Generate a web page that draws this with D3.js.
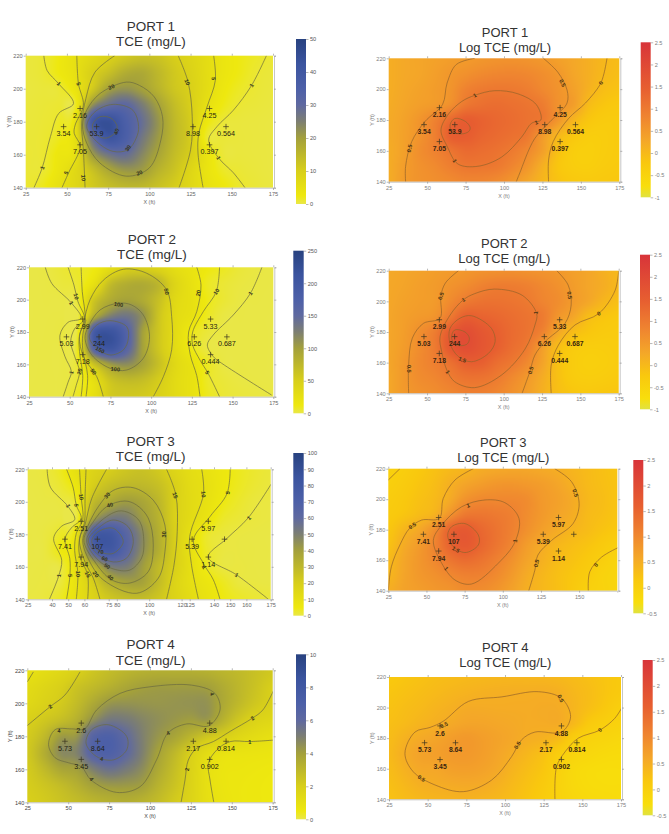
<!DOCTYPE html>
<html>
<head>
<meta charset="utf-8">
<title>TCE concentration by port</title>
<script src="https://cdn.jsdelivr.net/npm/d3@7"></script>
<style>
  html, body { margin: 0; padding: 0; background: #fff; }
  text { font-family: "Liberation Sans", Arial, sans-serif; }
</style>
</head>
<body>
<svg id="chart" width="669" height="834"></svg>
<script>
// Sampling nodes of the concentration fields (ft)
const xNodes = [25, 35, 45, 55, 65, 75, 85, 95, 105, 115, 125, 135, 145, 155, 165, 175];
const yNodes = [220, 210, 200, 190, 180, 170, 160, 150, 140];

// Monitoring wells
const wellX = [48, 58, 58, 68, 126.5, 136.5, 136.5, 146.5];
const wellY = [177, 188, 166, 177, 177, 188, 166, 177];
const port1Values = ["3.54", "2.16", "7.05", "53.9", "8.98", "4.25", "0.397", "0.564"];
const port2Values = ["5.03", "2.99", "7.18", "244", "6.26", "5.33", "0.444", "0.687"];
const port3Values = ["7.41", "2.51", "7.94", "107", "5.39", "5.97", "1.14", ""];
const port4Values = ["5.73", "2.6", "3.45", "8.64", "2.17", "4.88", "0.902", "0.814"];

const xTicksStandard = [25, 50, 75, 100, 125, 150, 175];
const xTicksPort3Tce = [25, 40, 50, 60, 75, 80, 100, 120, 125, 140, 150, 160, 175];
const xTicksPort3Log = [25, 50, 75, 100, 125, 150];
const yTicks = [140, 160, 180, 200, 220];

const port1TceBar = [0, 10, 20, 30, 40, 50];
const port2TceBar = [0, 50, 100, 150, 200, 250];
const port3TceBar = [0, 10, 20, 30, 40, 50, 60, 70, 80, 90, 100];
const port4TceBar = [0, 2, 4, 6, 8, 10];
const logBarWide = [-1, -0.5, 0, 0.5, 1, 1.5, 2, 2.5];
const logBarNarrow = [-0.5, 0, 0.5, 1, 1.5, 2, 2.5];

// Concentration fields, one row per yNodes entry
const port1TceField = [
  [0.5, 0.9, 2.5, 4.8, 7, 9.3, 11.5, 13, 12.5, 10.3, 8.2, 6, 3.5, 2.3, 1.4, 0.8],
  [0.5, 0.9, 2.5, 4.8, 9.5, 13, 17, 18, 15, 11.5, 9, 6, 3.5, 2.2, 1, 0.6],
  [0.4, 0.6, 0.9, 3.8, 11, 19.5, 22, 20, 16, 12, 9.6, 6, 3, 1.5, 0.8, 0.5],
  [0.5, 0.7, 0.95, 1.5, 22, 29, 31, 26, 20, 14, 10, 5, 2.2, 0.9, 0.6, 0.4],
  [0.6, 0.8, 1.5, 5, 38, 44, 36, 29, 22, 15, 10.5, 3, 0.8, 0.5, 0.4, 0.3],
  [0.7, 0.9, 2, 5.5, 28, 41, 36, 27, 21, 15, 10.5, 1.2, 0.7, 0.5, 0.4, 0.3],
  [0.8, 0.95, 3, 5, 20, 27, 29, 24, 19, 14, 10, 4, 0.7, 0.5, 0.4, 0.3],
  [0.8, 1, 3.5, 7, 12.5, 18, 21, 20.5, 16, 12.5, 8, 4, 1.5, 0.8, 0.5, 0.3],
  [0.9, 2, 4.7, 7.5, 11, 13.5, 15, 15, 13, 10.5, 7.5, 4.5, 2.8, 1.2, 0.7, 0.4]
];
const port1LogField = [
  [0.18, 0.25, 0.3, 0.36, 0.42, 0.47, 0.53, 0.58, 0.6, 0.57, 0.5, 0.38, 0.27, 0.15, 0.03, -0.05],
  [0.18, 0.25, 0.3, 0.4, 0.52, 0.62, 0.72, 0.78, 0.8, 0.76, 0.66, 0.52, 0.3, 0.15, 0, -0.08],
  [0.18, 0.27, 0.35, 0.44, 0.56, 0.85, 0.98, 1.02, 1, 0.92, 0.75, 0.58, 0.38, 0.12, -0.08, -0.15],
  [0.2, 0.3, 0.4, 0.48, 0.65, 1.02, 1.15, 1.2, 1.15, 1.08, 0.95, 0.6, 0.42, -0.03, -0.2, -0.25],
  [0.23, 0.35, 0.55, 0.85, 1.25, 1.5, 1.4, 1.3, 1.22, 1.12, 1, 0.55, 0.08, -0.2, -0.3, -0.3],
  [0.23, 0.37, 0.58, 0.9, 1.45, 1.5, 1.35, 1.25, 1.15, 1.02, 0.5, 0.05, -0.2, -0.35, -0.35, -0.3],
  [0.2, 0.38, 0.65, 0.85, 1.08, 1.25, 1.2, 1.12, 0.98, 0.75, 0.4, -0.1, -0.35, -0.4, -0.35, -0.3],
  [0.2, 0.42, 0.6, 0.72, 0.9, 1.05, 1.05, 1, 0.8, 0.55, 0.15, -0.2, -0.35, -0.38, -0.32, -0.28],
  [0.2, 0.45, 0.58, 0.65, 0.72, 0.8, 0.8, 0.72, 0.55, 0.3, 0.05, -0.15, -0.25, -0.28, -0.25, -0.22]
];
const port2TceField = [
  [0.5, 1, 4, 7, 12, 30, 48, 50, 42, 28, 20, 12.5, 8, 3, 1.2, 0.6],
  [0.4, 0.8, 2.5, 5.5, 25, 70, 85, 88, 75, 40, 22, 8, 4, 1.6, 0.8, 0.5],
  [0.3, 0.6, 0.8, 5, 60, 88, 97, 88, 65, 35, 24, 10.5, 4, 0.9, 0.6, 0.4],
  [0.3, 0.5, 0.7, 0.9, 85, 125, 135, 110, 60, 32, 22, 8, 1, 0.6, 0.4, 0.3],
  [0.4, 0.6, 1.8, 9, 190, 210, 165, 98, 58, 30, 11, 3, 0.8, 0.5, 0.4, 0.3],
  [0.4, 0.7, 1.5, 13, 170, 205, 160, 97, 58, 30, 11, 1.2, 0.6, 0.4, 0.4, 0.3],
  [0.4, 0.7, 0.9, 7, 65, 105, 115, 95, 65, 35, 21, 8, 1, 0.6, 0.4, 0.3],
  [0.5, 0.7, 0.9, 5, 28, 62, 72, 68, 52, 32, 22, 7, 3, 1.1, 0.6, 0.3],
  [0.6, 0.8, 1.1, 8, 25, 55, 58, 55, 46, 32, 22, 9, 4, 2.5, 1.6, 1]
];
const port2LogField = [
  [0.25, 0.3, 0.35, 0.42, 0.47, 0.53, 0.6, 0.63, 0.65, 0.62, 0.58, 0.52, 0.4, 0.3, 0.15, 0.02],
  [0.27, 0.32, 0.4, 0.46, 0.58, 0.7, 0.85, 0.95, 0.95, 0.88, 0.75, 0.62, 0.45, 0.3, 0.18, 0.02],
  [0.28, 0.36, 0.42, 0.47, 0.72, 0.98, 1.1, 1.12, 1.08, 1, 0.82, 0.68, 0.47, 0.28, 0.05, -0.1],
  [0.3, 0.4, 0.48, 0.58, 1, 1.45, 1.38, 1.3, 1.2, 1.1, 0.98, 0.55, 0.3, -0.05, -0.18, -0.25],
  [0.3, 0.42, 0.65, 0.95, 1.55, 1.85, 1.65, 1.45, 1.25, 1.1, 0.85, 0.3, -0.05, -0.2, -0.28, -0.3],
  [0.3, 0.45, 0.68, 0.98, 1.6, 1.85, 1.68, 1.45, 1.2, 0.98, 0.45, -0.05, -0.28, -0.35, -0.35, -0.32],
  [0.3, 0.5, 0.72, 0.9, 1.15, 1.45, 1.45, 1.2, 1.02, 0.75, 0.35, -0.1, -0.32, -0.4, -0.38, -0.33],
  [0.28, 0.5, 0.68, 0.78, 0.95, 1.1, 1.1, 0.98, 0.75, 0.5, 0.2, -0.1, -0.3, -0.35, -0.33, -0.28],
  [0.28, 0.48, 0.6, 0.68, 0.78, 0.88, 0.9, 0.8, 0.62, 0.42, 0.15, -0.08, -0.2, -0.25, -0.22, -0.2]
];
const port3TceField = [
  [0.4, 0.9, 3.5, 10, 17, 20.5, 24, 26, 23, 17, 12, 9, 6, 3.8, 2.2, 1.3],
  [0.3, 0.6, 2, 7, 20, 27, 30, 30, 27, 20, 13, 10, 6, 3.5, 1.8, 1],
  [0.2, 0.4, 0.7, 3.5, 28, 36, 41, 38, 31, 20, 13.5, 9.5, 5, 2.5, 0.95, 0.6],
  [0.2, 0.3, 0.6, 0.9, 38, 52, 52, 42, 33, 20, 13, 8, 3, 1.5, 0.8, 0.5],
  [0.3, 0.6, 3, 10, 72, 80, 65, 48, 35, 21, 10.5, 3, 1.1, 0.6, 0.4, 0.3],
  [0.3, 0.6, 5, 12, 65, 78, 65, 47, 35, 21, 10.5, 3.2, 0.8, 0.5, 0.4, 0.3],
  [0.3, 0.5, 0.9, 11, 30, 50, 52, 42, 30, 20, 11, 4, 0.8, 0.6, 0.4, 0.3],
  [0.4, 0.6, 1.1, 9, 20, 33, 39, 39, 29, 18, 11, 7, 3.8, 1, 0.6, 0.4],
  [0.5, 0.9, 3, 9.5, 17, 23, 27, 28, 24, 18, 12.5, 8.5, 5, 3, 1.8, 1.1]
];
const port3LogField = [
  [-0.02, 0.05, 0.15, 0.25, 0.35, 0.42, 0.52, 0.57, 0.6, 0.6, 0.56, 0.51, 0.42, 0.34, 0.27, 0.2],
  [0.02, 0.1, 0.2, 0.3, 0.47, 0.62, 0.72, 0.8, 0.82, 0.78, 0.72, 0.62, 0.48, 0.35, 0.28, 0.22],
  [0.08, 0.15, 0.25, 0.35, 0.55, 0.85, 0.98, 1, 1, 0.95, 0.78, 0.68, 0.55, 0.38, 0.3, 0.22],
  [0.12, 0.2, 0.32, 0.45, 0.85, 1.2, 1.25, 1.2, 1.12, 0.95, 0.78, 0.64, 0.52, 0.35, 0.28, 0.2],
  [0.18, 0.4, 0.58, 0.92, 1.52, 1.7, 1.48, 1.3, 1.12, 0.9, 0.7, 0.55, 0.42, 0.32, 0.22, 0.15],
  [0.25, 0.53, 0.75, 1.05, 1.52, 1.72, 1.5, 1.28, 1.05, 0.75, 0.55, 0.4, 0.3, 0.22, 0.12, 0.02],
  [0.35, 0.6, 0.8, 1, 1.25, 1.4, 1.3, 1.12, 0.9, 0.65, 0.48, 0.33, 0.24, 0.14, 0.03, -0.08],
  [0.4, 0.62, 0.78, 0.88, 1, 1.1, 1.1, 0.98, 0.78, 0.55, 0.4, 0.28, 0.18, 0.08, -0.05, -0.1],
  [0.5, 0.65, 0.72, 0.8, 0.85, 0.95, 0.95, 0.85, 0.68, 0.5, 0.38, 0.28, 0.16, 0, -0.05, -0.1]
];
const port4TceField = [
  [0.95, 1.2, 1.5, 1.9, 2.4, 2.8, 3.1, 3.3, 3.4, 3.4, 3.4, 3.3, 3.1, 2.9, 2.6, 2.3],
  [1.3, 1.6, 1.95, 2.5, 2.9, 3.3, 3.7, 3.98, 4.1, 4.1, 4.1, 4, 3.5, 3, 2.5, 2],
  [1.5, 1.85, 2.2, 2.8, 3.6, 4.3, 4.4, 4.35, 4.3, 4.35, 4.4, 4.4, 3.6, 2.9, 2.3, 1.9],
  [1.95, 2.3, 2.7, 3.3, 4.5, 5.3, 5.2, 4.8, 4.5, 4.25, 4.05, 4.2, 3.2, 2.3, 1.75, 1.5],
  [2.2, 2.9, 4.1, 4.3, 6.4, 6.9, 6, 5, 4.3, 3.8, 3.1, 2.4, 2, 1.5, 1.2, 1],
  [2.3, 3.4, 4.6, 4.9, 6.5, 6.9, 6.1, 5, 3.9, 3, 2, 1.25, 0.9, 0.8, 0.75, 0.7],
  [2.2, 2.9, 3.7, 4, 5, 5.6, 5.2, 4.6, 3.6, 2.7, 1.8, 1, 0.7, 0.65, 0.6, 0.55],
  [2.1, 2.4, 2.8, 3.3, 3.9, 4.2, 4.2, 4, 3.2, 2.5, 1.75, 1, 0.7, 0.6, 0.55, 0.5],
  [2, 2.2, 2.5, 2.8, 3.1, 3.3, 3.4, 3.2, 2.8, 2.2, 1.7, 1.05, 0.75, 0.6, 0.55, 0.5]
];
const port4LogField = [
  [0.15, 0.2, 0.25, 0.3, 0.33, 0.36, 0.38, 0.4, 0.41, 0.41, 0.41, 0.38, 0.33, 0.27, 0.2, 0.14],
  [0.2, 0.25, 0.3, 0.35, 0.4, 0.44, 0.47, 0.49, 0.5, 0.5, 0.51, 0.48, 0.38, 0.3, 0.2, 0.12],
  [0.24, 0.3, 0.35, 0.42, 0.48, 0.54, 0.54, 0.53, 0.53, 0.53, 0.54, 0.53, 0.4, 0.27, 0.15, 0.02],
  [0.28, 0.34, 0.42, 0.49, 0.56, 0.62, 0.62, 0.59, 0.56, 0.53, 0.53, 0.53, 0.35, 0.12, 0.02, -0.05],
  [0.32, 0.45, 0.55, 0.62, 0.72, 0.78, 0.72, 0.65, 0.58, 0.5, 0.45, 0.32, 0.05, -0.05, -0.1, -0.15],
  [0.35, 0.52, 0.65, 0.7, 0.76, 0.78, 0.72, 0.62, 0.5, 0.38, 0.25, 0.05, -0.08, -0.15, -0.2, -0.22],
  [0.32, 0.46, 0.58, 0.6, 0.68, 0.7, 0.66, 0.57, 0.42, 0.3, 0.18, -0.02, -0.18, -0.24, -0.26, -0.26],
  [0.28, 0.38, 0.48, 0.52, 0.55, 0.57, 0.55, 0.47, 0.35, 0.24, 0.12, -0.05, -0.18, -0.24, -0.26, -0.26],
  [0.25, 0.32, 0.38, 0.42, 0.44, 0.46, 0.43, 0.38, 0.3, 0.2, 0.08, -0.05, -0.14, -0.2, -0.22, -0.24]
];

// Contour traces in ft: [level, "open" | "loop", [x, y] vertices]
const port1TceContours = [
  [1, "open", [[36, 220], [38, 211], [45, 203], [54, 191], [45, 185], [40, 171], [35, 152], [30, 140]]],
  [5, "open", [[56, 220], [57, 203], [60, 190], [55, 178], [54.4, 173], [58, 165], [51, 149], [47, 140]]],
  [10, "open", [[79, 220], [67, 210], [61.5, 194], [59, 179], [60, 163], [61, 140]]],
  [10, "open", [[117.5, 220], [123.5, 204], [126, 183], [125, 163], [118, 140]]],
  [5, "open", [[139, 220], [140, 205], [135, 189], [130, 173], [129.5, 161], [132.6, 140]]],
  [1, "open", [[171, 220], [162, 202], [151, 187], [141, 177], [136, 169], [142, 158], [151, 149], [158, 140]]],
  [20, "loop", [[86, 204], [70, 197], [62, 187], [59.5, 178], [62, 167], [70, 155], [86, 147], [100, 152], [107, 169], [108, 183], [103, 195], [94, 202]]],
  [30, "loop", [[93.5, 177], [90, 187], [78, 190.5], [67, 186], [62, 177], [68, 168], [78, 162], [87, 163], [92, 170]]],
  [40, "loop", [[80.5, 177], [77, 182], [70, 183], [65.5, 178], [67, 173], [73, 170], [79, 173]]]
];
const port1TceLabels = [["1", 45, 203], ["5", 57, 203], ["10", 123, 204], ["5", 139, 206], ["1", 162, 202], ["20", 77, 201], ["30", 87, 164], ["40", 80, 174], ["20", 94, 149], ["1", 35, 152], ["5", 49.5, 149], ["10", 60, 146], ["1", 142, 158]];
const port1LogContours = [
  [0.5, "open", [[81, 220], [69, 216], [63, 204], [60, 190], [48.6, 179], [40, 166], [36, 150], [36, 140]]],
  [0.5, "open", [[125.6, 220], [135, 211], [141, 199.5], [141, 191], [133, 182], [120, 168], [110, 145], [108, 140]]],
  [0, "open", [[167, 220], [165, 210], [162.5, 203], [153, 191], [142, 181], [132, 166], [129, 154], [129, 140]]],
  [1, "loop", [[81, 196], [94, 199], [109, 197], [121, 190], [124, 180], [118, 178], [111.5, 169], [98.5, 156], [83, 150], [70, 151.5], [63, 163], [59, 173.5], [64, 184], [72.5, 192]]],
  [1.5, "loop", [[78, 175], [75, 179], [68, 181], [65, 177], [66, 172.5], [72.5, 171], [77, 172.5]]]
];
const port1LogLabels = [["0.5", 138, 204], ["0", 163, 204], ["1", 81, 196], ["1", 121, 178.5], ["0.5", 38.5, 161.6], ["1", 68, 153.6]];
const port2TceContours = [
  [1, "open", [[35, 220], [39, 210], [51, 198], [57, 188.5], [49, 186], [44, 178], [47, 165], [51, 155.5], [49, 149], [46, 140]]],
  [5, "open", [[49, 220], [52.6, 209], [55, 199], [59, 188], [53, 182], [50.6, 174], [53, 165], [56, 155.5], [54, 147], [52, 140]]],
  [10, "open", [[57, 220], [57.7, 205], [59.4, 187.5], [56, 178], [56, 168], [58, 153], [57, 140]]],
  [20, "open", [[60, 187.5], [58, 178], [58, 169], [61, 153], [60, 140]]],
  [50, "open", [[70.6, 140], [66.6, 152.4], [58.4, 164.8], [56, 177], [58.4, 185.4], [62.5, 200], [70.6, 212], [83, 218.8], [97.3, 216.3], [109.5, 206], [112.6, 189.5], [112.6, 169], [107.5, 152.4], [101.3, 140]]],
  [100, "loop", [[79.8, 197.8], [68.6, 193.6], [61.4, 183.3], [59.4, 176], [63.5, 165.8], [74.7, 157.6], [85, 156.5], [95.2, 163.8], [99, 177], [95.2, 190.5], [88, 196.7]]],
  [150, "loop", [[74.7, 187], [85, 183.3], [86, 176], [83, 169], [74.7, 165.8], [65.5, 171], [62, 177], [66.6, 184.3]]],
  [20, "open", [[128, 220], [130.6, 209], [128, 192.6], [123, 180], [124, 166], [128, 153], [130, 140]]],
  [10, "open", [[142, 220], [140, 205], [132, 192.6], [125.5, 180], [125.5, 172], [130, 162.6], [135, 154.4], [142, 140]]],
  [1, "open", [[168, 220], [161, 204], [150.4, 190.5], [138, 178], [134.5, 172], [138, 165], [142, 161.6], [174, 141]]]
];
const port2TceLabels = [["1", 51, 198], ["10", 54, 202], ["50", 109.5, 205], ["20", 129, 204], ["10", 140, 205], ["1", 161, 204], ["1", 51, 155], ["20", 56, 155.5], ["50", 64.5, 155.5], ["100", 78, 157], ["150", 68.6, 169], ["100", 80, 197], ["5", 134.5, 155]];
const port2LogContours = [
  [0.5, "open", [[70.5, 220], [62, 212], [59, 203.5], [58.5, 189], [47.6, 185.6], [40.4, 176], [38, 158.5], [38, 140]]],
  [0.5, "open", [[134.6, 220], [142, 210.7], [144, 197.6], [140, 185.6], [127, 173.7], [120.4, 165], [117, 154], [112, 140]]],
  [0, "open", [[175, 220], [172.6, 207], [162, 192], [146.5, 184.6], [135.7, 171.5], [131, 158.5], [131, 140]]],
  [1, "loop", [[73.7, 201], [81, 205], [94, 208], [112, 204], [121.5, 192], [120.4, 184.6], [114, 169], [98.7, 152], [81, 143.7], [68, 147.6], [63, 155], [59.6, 167], [58.5, 177], [65, 191]]],
  [1.5, "loop", [[79, 190.6], [92, 182.4], [94.4, 173.7], [90, 166], [79, 160.6], [70.4, 164], [65, 172.6], [65, 182.4], [71.5, 189]]],
  [2, "loop", [[77.6, 176], [74.8, 180], [68, 181.3], [66, 176], [69.3, 171.5], [76, 172]]]
];
const port2LogLabels = [["0.5", 59, 203.5], ["1", 73.7, 201], ["1", 121, 192.6], ["0.5", 143, 204], ["0", 162, 192], ["1.5", 73, 162], ["0.5", 38, 156], ["1", 63.5, 154], ["0.5", 117.6, 155]];
const port3TceContours = [
  [1, "open", [[37, 220], [39, 209], [50, 197], [54, 189], [46, 185], [41, 177.5], [46, 164], [44, 154], [38.4, 140]]],
  [5, "open", [[49, 220], [53, 209], [55, 198], [58, 189.5], [52, 184], [48, 177], [51, 165], [51, 154], [49, 140]]],
  [10, "open", [[57, 220], [58, 203], [59, 189], [55, 180.6], [54, 170], [56, 156], [55, 140]]],
  [15, "open", [[61, 220], [60.4, 203], [60, 187], [57, 177.5], [57, 167], [62, 155], [62, 140]]],
  [20, "open", [[73.7, 220], [64.5, 202], [60.4, 186], [57, 176.6], [60.4, 163], [65.5, 153], [69.6, 140]]],
  [20, "open", [[110.7, 220], [116.5, 204], [117.3, 181.6], [115.3, 161], [110.7, 140]]],
  [30, "loop", [[90, 208.7], [77.8, 207], [68.6, 197], [62.4, 185.7], [59, 176.5], [62.4, 165], [71.6, 152], [92.2, 143.7], [105.6, 153], [109.7, 169.3], [109.7, 185.7], [102.5, 201]]],
  [40, "loop", [[85, 200.5], [73.7, 197], [65.5, 187.7], [59.7, 176.5], [66.5, 163], [76.8, 152], [88, 150], [99.4, 157], [102.5, 173.4], [99.4, 190], [92.2, 198]]],
  [50, "loop", [[80.9, 194.3], [69.6, 187.7], [61.4, 176.5], [68.6, 164], [77.8, 158.7], [88, 158], [95.3, 165.4], [96.7, 175.5], [94.3, 187.7], [88, 193]]],
  [60, "loop", [[77.8, 188.8], [69.6, 184.7], [62.4, 176.5], [68.6, 167.3], [77.8, 163], [86, 165.3], [90.2, 175.5], [87, 184.7]]],
  [70, "loop", [[77.8, 183.7], [68.6, 181.6], [64.5, 175.5], [69.6, 169.3], [77.8, 168.3], [84, 175.5]]],
  [10, "open", [[132.4, 220], [133.5, 205], [125, 178.6], [126, 162], [130.4, 140]]],
  [5, "open", [[150, 220], [148, 205], [137.6, 191], [127.3, 176.5], [133.5, 162], [139.6, 152], [143.7, 140]]],
  [1, "open", [[175.6, 211.4], [161, 190], [148, 177.5], [136.5, 166], [154, 155], [173.6, 140]]]
];
const port3TceLabels = [["1", 50, 197.6], ["5", 55, 198], ["10", 58, 203], ["30", 74, 204], ["40", 75.8, 198], ["15", 116, 204], ["10", 133.5, 204.6], ["5", 148.5, 205.6], ["1", 161.6, 190], ["30", 109, 180], ["1", 44.3, 154.6], ["5", 51, 154.6], ["10", 56, 155.6], ["15", 62, 155.4], ["20", 67, 155.4], ["40", 76, 153.5], ["50", 74, 160.5], ["60", 72.5, 165], ["70", 70, 169.3], ["1", 154, 155], ["1", 134, 159.7]];
const port3LogContours = [
  [0, "open", [[32.6, 220], [25, 212.6]]],
  [0.5, "open", [[80.7, 220], [68.7, 212.6], [61, 200.5], [58.4, 187.4], [46.8, 186.3], [39, 181], [32.6, 170], [27, 155.7], [25, 140]]],
  [0.5, "open", [[134, 220], [145, 211.5], [150, 197], [146, 184], [132, 173], [123, 163.4], [121, 153.5], [117, 140]]],
  [0, "open", [[176.7, 168.8], [164.7, 162], [157, 152.5], [156, 140]]],
  [1, "loop", [[88.3, 199.5], [101.4, 197.7], [110.6, 187.4], [108, 172], [97, 158], [79.6, 144.4], [68.7, 147], [60, 158], [54.5, 173], [60, 183], [73, 195]]],
  [1.5, "loop", [[75.2, 184], [84, 176.5], [84, 170], [75.2, 165], [66.5, 170], [63.9, 176.5], [66.5, 182]]]
];
const port3LogLabels = [["0.5", 40.7, 182.6], ["0.5", 147.6, 204], ["1", 77.4, 196], ["1", 108, 172.6], ["1.5", 69.3, 167], ["1", 63, 154.6], ["0.5", 122, 158], ["0", 161, 156.8]];
const port4TceContours = [
  [1, "open", [[28.7, 219], [25, 213]]],
  [2, "open", [[57.2, 219], [48, 205], [39, 198], [25, 186.5]]],
  [4, "loop", [[42, 184], [52, 184.5], [60, 184.5], [67.4, 196], [81.7, 206], [100, 210], [125.5, 211], [139.7, 206], [142.8, 196], [135.7, 186.3], [122.4, 187.5], [111, 182], [104, 165.7], [94, 149.5], [79.6, 146], [64, 153.5], [58, 161.6], [50, 164], [42, 167], [38, 175]]],
  [6, "loop", [[74.5, 187], [85.7, 180], [85.7, 171.7], [77.6, 165.7], [67.4, 167.7], [60.9, 175.8], [64.3, 184]]],
  [2, "open", [[177, 211], [169, 196], [162.6, 191], [149, 183], [138.7, 176.8], [128.5, 172.7], [123.4, 165.6], [121.4, 153.5], [119, 140]]],
  [1, "open", [[177, 177.8], [161, 176.8], [149, 176.8], [140.8, 171.7], [135.7, 163.6], [136.7, 153.5], [139, 140]]]
];
const port4TceLabels = [["2", 39, 198], ["4", 44.4, 183.4], ["4", 138, 205.7], ["4", 111, 182], ["4", 70.4, 166.3], ["4", 64.3, 154], ["2", 162.6, 191], ["1", 161, 176.8], ["2", 122.6, 160]];
const port4LogContours = [
  [0.5, "loop", [[41.8, 184], [51.5, 187], [60, 191], [76.3, 204], [98, 207], [121.5, 210.4], [136.6, 206], [142.4, 194], [136.6, 184], [119.4, 184], [110.8, 179], [104.3, 168], [91.4, 152.6], [73, 145], [54.7, 149.4], [40.7, 158], [35.3, 170]]],
  [0, "open", [[175.9, 200.6], [171, 193], [161.4, 185.3], [147.4, 180], [138.8, 171], [133.4, 161.4], [132.3, 140]]]
];
const port4LogLabels = [["0.5", 60.6, 188.6], ["0.5", 136, 206], ["0.5", 108, 175.5], ["0.5", 46, 153.7], ["0", 161.4, 185.3]];

// Colour ramps over the normalised bar range
const tceRamp = d3.scaleLinear()
  .domain([0, 0.05, 0.2, 0.4, 0.5, 0.6, 0.7, 0.85, 1])
  .range(["#e9e748", "#eee80f", "#d8cf1a", "#a3a03c", "#7d7f72", "#5f69a0", "#4d60a8", "#3b549f", "#284280"]);
const logRamp = d3.scaleLinear()
  .domain([0, 0.07, 0.22, 0.36, 0.52, 0.7, 1])
  .range(["#e0e240", "#f8de0c", "#f9c80e", "#f4a828", "#ef8430", "#e75f30", "#d8343a"]);

// Page placement of every panel
const panels = [
  { port: "PORT 1", sub: "TCE (mg/L)", field: port1TceField, lines: port1TceContours, tags: port1TceLabels, values: port1Values, xt: xTicksStandard, bar: port1TceBar, ramp: tceRamp,
    plot: [25.7, 273, 55.7, 187.7], cbar: [296, 306, 39, 204], tx: 151, ty: [30.7, 46], fs: 13.5 },
  { port: "PORT 1", sub: "Log TCE (mg/L)", field: port1LogField, lines: port1LogContours, tags: port1LogLabels, values: port1Values, xt: xTicksStandard, bar: logBarWide, ramp: logRamp,
    plot: [388.7, 619.3, 58.3, 181.7], cbar: [640.7, 650.7, 42.3, 197.3], tx: 505, ty: [37.3, 51.7], fs: 13 },
  { port: "PORT 2", sub: "TCE (mg/L)", field: port2TceField, lines: port2TceContours, tags: port2TceLabels, values: port2Values, xt: xTicksStandard, bar: port2TceBar, ramp: tceRamp,
    plot: [29, 273.3, 267.3, 396.7], cbar: [293.3, 303.7, 250.7, 413.3], tx: 152, ty: [244.3, 259.3], fs: 13.5 },
  { port: "PORT 2", sub: "Log TCE (mg/L)", field: port2LogField, lines: port2LogContours, tags: port2LogLabels, values: port2Values, xt: xTicksStandard, bar: logBarWide, ramp: logRamp,
    plot: [388.7, 618.7, 270.7, 393.3], cbar: [640, 650, 254.7, 409.3], tx: 504.3, ty: [248.3, 262.7], fs: 13 },
  { port: "PORT 3", sub: "TCE (mg/L)", field: port3TceField, lines: port3TceContours, tags: port3TceLabels, values: port3Values, xt: xTicksPort3Tce, bar: port3TceBar, ramp: tceRamp,
    plot: [27.7, 270.7, 469.3, 599.3], cbar: [293.3, 303.7, 453, 615.7], tx: 150.7, ty: [445.7, 461.3], fs: 13.5 },
  { port: "PORT 3", sub: "Log TCE (mg/L)", field: port3LogField, lines: port3LogContours, tags: port3LogLabels, values: port3Values, xt: xTicksPort3Log, bar: logBarNarrow, ramp: logRamp,
    plot: [388.3, 617.3, 468.7, 590.7], cbar: [633.3, 643.3, 460, 613.3], tx: 503.3, ty: [447.3, 462.3], fs: 13 },
  { port: "PORT 4", sub: "TCE (mg/L)", field: port4TceField, lines: port4TceContours, tags: port4TceLabels, values: port4Values, xt: xTicksStandard, bar: port4TceBar, ramp: tceRamp,
    plot: [27.3, 272.7, 670.3, 802.3], cbar: [296, 306, 654.3, 819.3], tx: 150.7, ty: [649.3, 664.7], fs: 13.5 },
  { port: "PORT 4", sub: "Log TCE (mg/L)", field: port4LogField, lines: port4LogContours, tags: port4LogLabels, values: port4Values, xt: xTicksStandard, bar: logBarNarrow, ramp: logRamp,
    plot: [389, 621, 677, 799.3], cbar: [642.7, 652.7, 660, 815.3], tx: 505.3, ty: [651.7, 667.3], fs: 13 }
];

const svg = d3.select("#chart");
const defs = svg.append("defs");

// Catmull-Rom weight along one axis
function cubic(a, b, c, d, t) {
  return 0.5 * (2 * b + (c - a) * t + (2 * a - 5 * b + 4 * c - d) * t * t + (3 * b - a - 3 * c + d) * t * t * t);
}

// Smooth lookup in a field on the regular node lattice
function sampleField(field, fx, fy) {
  const nx = xNodes.length, ny = yNodes.length;
  const i = Math.min(nx - 2, Math.floor(fx)), j = Math.min(ny - 2, Math.floor(fy));
  const tx = fx - i, ty = fy - j;
  const column = [];
  for (let m = -1; m <= 2; m++) {
    const r = field[Math.max(0, Math.min(ny - 1, j + m))];
    const at = k => r[Math.max(0, Math.min(nx - 1, i + k))];
    column.push(cubic(at(-1), at(0), at(1), at(2), tx));
  }
  return cubic(column[0], column[1], column[2], column[3], ty);
}

function rasterField(p, x, y, norm) {
  const w = Math.round(p.plot[1] - p.plot[0]), h = Math.round(p.plot[3] - p.plot[2]);
  const canvas = document.createElement("canvas");
  canvas.width = w; canvas.height = h;
  const ctx = canvas.getContext("2d");
  const img = ctx.createImageData(w, h);
  const lookupX = d3.scaleLinear().domain(d3.extent(xNodes)).range([0, xNodes.length - 1]);
  const lookupY = d3.scaleLinear().domain([yNodes[0], yNodes[yNodes.length - 1]]).range([0, yNodes.length - 1]);
  const dx = d3.scaleLinear().domain([0, w - 1]).range(x.domain());
  const dy = d3.scaleLinear().domain([0, h - 1]).range(y.domain().slice().reverse());
  for (let r = 0; r < h; r++) {
    for (let c = 0; c < w; c++) {
      const v = sampleField(p.field, lookupX(dx(c)), lookupY(dy(r)));
      const col = d3.rgb(p.ramp(norm(v)));
      const o = (r * w + c) * 4;
      img.data[o] = col.r; img.data[o + 1] = col.g; img.data[o + 2] = col.b; img.data[o + 3] = 255;
    }
  }
  ctx.putImageData(img, 0, 0);
  return canvas.toDataURL();
}

const tickColor = "#8a8a8a";

function styleAxis(g, color) {
  g.selectAll("path.domain").attr("stroke", "#b8b8b8").attr("stroke-width", 0.8);
  g.selectAll(".tick line").attr("stroke", tickColor).attr("stroke-width", 0.6);
  g.selectAll(".tick text").attr("fill", color).style("font-family", '"Liberation Sans", Arial, sans-serif').style("font-size", "5.6px");
}

panels.forEach((p, index) => {
  const isLog = p.ramp === logRamp;
  const [left, right, top, bottom] = p.plot;
  const x = d3.scaleLinear().domain([25, 175]).range([left, right]);
  const y = d3.scaleLinear().domain([140, 220]).range([bottom, top]);
  const norm = d3.scaleLinear().domain(d3.extent(p.bar)).range([0, 1]).clamp(true);
  const labelColor = isLog ? "#808080" : (index === 6 ? "#444" : "#666");
  const g = svg.append("g");

  // Filled concentration surface
  g.append("image")
    .attr("x", left).attr("y", top)
    .attr("width", right - left).attr("height", bottom - top)
    .attr("preserveAspectRatio", "none")
    .attr("href", rasterField(p, x, y, norm));

  const clipId = "plot-clip-" + index;
  defs.append("clipPath").attr("id", clipId).append("rect")
    .attr("x", left).attr("y", top).attr("width", right - left).attr("height", bottom - top);

  // Iso-concentration lines
  const lineOpen = d3.line().x(d => x(d[0])).y(d => y(d[1])).curve(d3.curveCatmullRom.alpha(0.5));
  const lineLoop = d3.line().x(d => x(d[0])).y(d => y(d[1])).curve(d3.curveCatmullRomClosed.alpha(0.5));
  g.append("g").attr("clip-path", `url(#${clipId})`)
    .selectAll("path").data(p.lines).join("path")
    .attr("fill", "none")
    .attr("stroke", isLog ? "#93632a" : "#6a6a40")
    .attr("stroke-width", 0.7)
    .attr("d", d => (d[1] === "loop" ? lineLoop : lineOpen)(d[2]));

  // Line labels follow the direction of the nearest trace
  function labelAngle(lx, ly) {
    let best = Infinity, angle = 0;
    p.lines.forEach(line => {
      line[2].forEach((pt, i) => {
        const next = line[2][i + 1] || (line[1] === "loop" ? line[2][0] : null);
        if (!next) return;
        const mx = (x(pt[0]) + x(next[0])) / 2, my = (y(pt[1]) + y(next[1])) / 2;
        const dist = Math.hypot(mx - x(lx), my - y(ly));
        if (dist < best) {
          best = dist;
          angle = Math.atan2(y(next[1]) - y(pt[1]), x(next[0]) - x(pt[0])) * 180 / Math.PI;
        }
      });
    });
    if (angle > 90) angle -= 180;
    if (angle < -90) angle += 180;
    return angle;
  }
  g.append("g").selectAll("text").data(p.tags).join("text")
    .attr("transform", d => `translate(${x(d[1])},${y(d[2])}) rotate(${labelAngle(d[1], d[2]).toFixed(1)})`)
    .attr("text-anchor", "middle").attr("dy", "0.35em")
    .attr("font-size", 5.6).attr("font-weight", 700)
    .attr("fill", isLog ? "#4a3210" : "#33331c")
    .text(d => d[0]);

  // Axes on all four sides; only bottom and left carry numbers
  const bottomAxis = g.append("g").attr("transform", `translate(0,${bottom})`)
    .call(d3.axisBottom(x).tickValues(p.xt).tickSize(2).tickPadding(2).tickFormat(d3.format("d")));
  styleAxis(bottomAxis, labelColor);
  const leftAxis = g.append("g").attr("transform", `translate(${left},0)`)
    .call(d3.axisLeft(y).tickValues(yTicks).tickSize(2).tickPadding(1).tickFormat(d3.format("d")));
  styleAxis(leftAxis, labelColor);
  leftAxis.select("path.domain").attr("stroke", "none");
  const topAxis = g.append("g").attr("transform", `translate(0,${top})`)
    .call(d3.axisTop(x).tickValues(p.xt).tickSize(2).tickFormat(""));
  styleAxis(topAxis, labelColor);
  topAxis.select("path.domain").attr("stroke", "none");
  const rightAxis = g.append("g").attr("transform", `translate(${right + 1},0)`)
    .call(d3.axisRight(y).tickValues(yTicks).tickSize(2).tickFormat(""));
  styleAxis(rightAxis, labelColor);

  g.append("text").attr("x", (left + right) / 2).attr("y", bottom + 16)
    .attr("text-anchor", "middle").attr("font-size", 5.4).attr("fill", labelColor).text("X (ft)");
  g.append("text")
    .attr("transform", `translate(${left - 15},${(top + bottom) / 2}) rotate(-90)`)
    .attr("text-anchor", "middle").attr("font-size", 5.4).attr("fill", labelColor).text("Y (ft)");

  // Well locations and their measured values
  const wells = g.append("g").selectAll("g").data(wellX.map((wx, i) => ({ wx, wy: wellY[i], text: p.values[i] })))
    .join("g").attr("transform", d => `translate(${x(d.wx)},${y(d.wy)})`);
  wells.append("path").attr("d", "M-2.8,0H2.8M0,-2.8V2.8").attr("stroke", "#3a3320").attr("stroke-width", 0.7);
  wells.append("text").attr("y", 9.6).attr("text-anchor", "middle")
    .attr("font-size", isLog ? 6.8 : 7.2).attr("font-weight", isLog ? 700 : 400)
    .attr("fill", isLog ? "#3a2510" : "#1e1e10").text(d => d.text);

  // Titles
  g.append("text").attr("x", p.tx).attr("y", p.ty[0]).attr("text-anchor", "middle")
    .attr("font-size", p.fs).attr("fill", "#333").text(p.port);
  g.append("text").attr("x", p.tx).attr("y", p.ty[1]).attr("text-anchor", "middle")
    .attr("font-size", p.fs).attr("fill", "#333").text(p.sub);

  // Colour bar
  const [cx0, cx1, cy0, cy1] = p.cbar;
  const barId = "bar-ramp-" + index;
  const grad = defs.append("linearGradient").attr("id", barId)
    .attr("x1", 0).attr("x2", 0).attr("y1", 1).attr("y2", 0);
  p.ramp.domain().forEach(f => grad.append("stop").attr("offset", f).attr("stop-color", p.ramp(f)));
  g.append("rect").attr("x", cx0).attr("y", cy0).attr("width", cx1 - cx0).attr("height", cy1 - cy0)
    .attr("fill", `url(#${barId})`);
  const barScale = d3.scaleLinear().domain(d3.extent(p.bar)).range([cy1, cy0]);
  const barAxis = g.append("g").attr("transform", `translate(${cx1},0)`)
    .call(d3.axisRight(barScale).tickValues(p.bar).tickSize(2.5).tickPadding(1.5).tickFormat(d => String(d)));
  styleAxis(barAxis, isLog ? "#808080" : "#555");
  barAxis.select("path.domain").attr("stroke", "none");
});
</script>
</body>
</html>
